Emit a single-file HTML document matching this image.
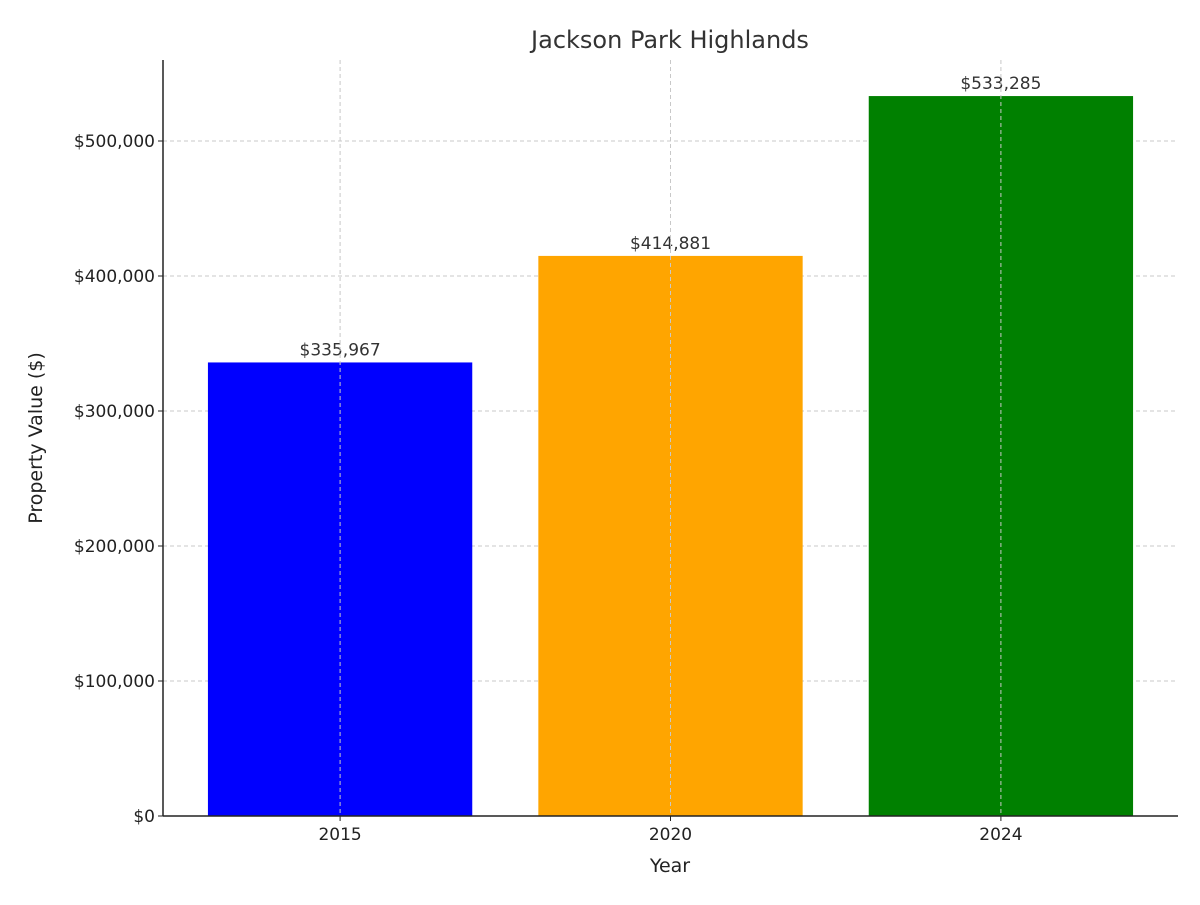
<!DOCTYPE html>
<html><head><meta charset="utf-8"><style>
body{margin:0;background:#fff;}
svg text{font-family:"DejaVu Sans","Liberation Sans",sans-serif;}
</style></head><body>
<svg id="chart" width="1200" height="900" xmlns="http://www.w3.org/2000/svg">
<text x="670" y="48" text-anchor="middle" font-size="24" fill="#333">Jackson Park Highlands</text>
<text x="670" y="872" text-anchor="middle" font-size="19" fill="#222">Year</text>
<text transform="translate(42,438) rotate(-90)" text-anchor="middle" font-size="19" fill="#222">Property Value ($)</text>
<g id="grid"></g>
<g id="bars"></g>
<g id="axes"></g>
</svg>
<script>
const categories = ["2015", "2020", "2024"];
const values = [335967, 414881, 533285];
const barLabels = ["$335,967", "$414,881", "$533,285"];
const colors = ["#0000ff", "#ffa500", "#008000"];
const yTicks = [0, 100000, 200000, 300000, 400000, 500000];
const yTickLabels = ["$0", "$100,000", "$200,000", "$300,000", "$400,000", "$500,000"];

const L=163, R=1178, T=60, B=816;
const yMax=560000, xMin=-0.536, xMax=2.536;
const xs=i=>L+(i-xMin)/(xMax-xMin)*(R-L);
const ys=v=>B-v/yMax*(B-T);
const bw=0.8*(R-L)/(xMax-xMin);
const NS="http://www.w3.org/2000/svg";
function mk(tag,attrs,parent,txt){const e=document.createElementNS(NS,tag);for(const k in attrs)e.setAttribute(k,attrs[k]);if(txt!==undefined)e.textContent=txt;parent.appendChild(e);return e;}
const grid=document.getElementById('grid'),bars=document.getElementById('bars'),axes=document.getElementById('axes');
yTicks.forEach((t,i)=>{
  const y=ys(t);
  if(t>0){const g=mk('line',{x1:L,x2:R,y1:y,y2:y,stroke:'#c8c8c8','stroke-dasharray':'4,3','stroke-width':1},grid);
  
  }
  const tk=mk('line',{x1:L-5,x2:L,y1:y,y2:y,stroke:'#222'},axes);
  
  
  const tl=mk('text',{x:L-8,y:y+6,'text-anchor':'end','font-size':17,fill:'#222'},axes,yTickLabels[i]);
  
  
});
categories.forEach((c,i)=>{
  const x=xs(i);
  const r=mk('rect',{x:x-bw/2,y:ys(values[i]),width:bw,height:B-ys(values[i]),fill:colors[i]},bars);
  
  
  const t=mk('text',{x:x,y:ys(values[i])-7,'text-anchor':'middle','font-size':17,fill:'#333'},bars,barLabels[i]);
  
  
  const g=mk('line',{x1:x,x2:x,y1:T,y2:B,stroke:'#c8c8c8','stroke-dasharray':'4,3','stroke-width':1},bars);
  
  
  const tk=mk('line',{x1:x,x2:x,y1:B,y2:B+5,stroke:'#222'},axes);
  
  
  const tl=mk('text',{x:x,y:B+24,'text-anchor':'middle','font-size':17,fill:'#222'},axes,c);
  
  
});
const ya=mk('line',{x1:L,x2:L,y1:T,y2:B,stroke:'#222','stroke-width':1.5},axes);


const xa=mk('line',{x1:L,x2:R,y1:B,y2:B,stroke:'#222','stroke-width':1.5},axes);


</script>
</body></html>
